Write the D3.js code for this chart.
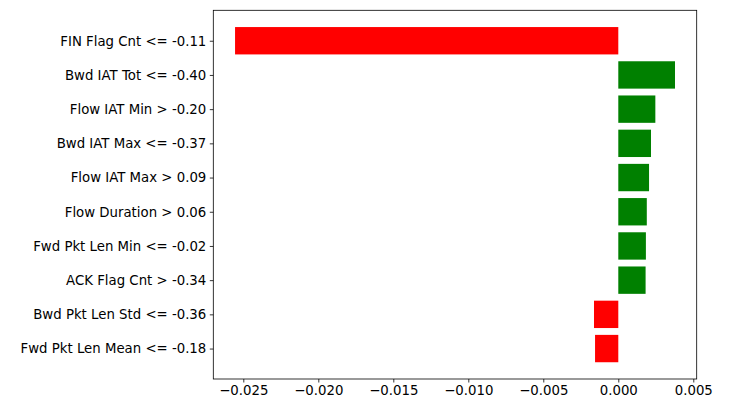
<!DOCTYPE html>
<html>
<head>
<meta charset="utf-8">
<script src="https://cdn.jsdelivr.net/npm/d3@7"></script>
<style>
  body { margin: 0; background: #fff; }
  text { font-family: "DejaVu Sans", sans-serif; }
</style>
</head>
<body>
<div id="chart"></div>
<script>
// bottom to top, as matplotlib barh draws them
const labels = [
  "Fwd Pkt Len Mean <= -0.18",
  "Bwd Pkt Len Std <= -0.36",
  "ACK Flag Cnt > -0.34",
  "Fwd Pkt Len Min <= -0.02",
  "Flow Duration > 0.06",
  "Flow IAT Max > 0.09",
  "Bwd IAT Max <= -0.37",
  "Flow IAT Min > -0.20",
  "Bwd IAT Tot <= -0.40",
  "FIN Flag Cnt <= -0.11",
];
const values = [-0.00155, -0.00162, 0.00182, 0.00184, 0.0019, 0.00205, 0.00218, 0.00247, 0.00378, -0.02555];
const xTicks = [-0.025, -0.02, -0.015, -0.01, -0.005, 0, 0.005];

const width = 736, height = 413;
const margin = { top: 10.3, right: 39.3, bottom: 34, left: 213.3 };
const w = width - margin.left - margin.right;
const h = height - margin.top - margin.bottom;

const svg = d3.select("#chart").append("svg")
  .attr("width", width).attr("height", height);
const g = svg.append("g")
  .attr("transform", "translate(" + margin.left + "," + margin.top + ")");

const x = d3.scaleLinear().domain([-0.02700, 0.005227]).range([0, w]);
const y = d3.scaleLinear().domain([-0.89, 9.89]).range([h, 0]);

g.selectAll("rect.bar").data(values).join("rect")
  .attr("class", "bar")
  .attr("x", d => x(Math.min(0, d)))
  .attr("width", d => Math.abs(x(d) - x(0)))
  .attr("y", (d, i) => y(i + 0.4))
  .attr("height", y(0) - y(0.8))
  .attr("fill", d => d > 0 ? "green" : "red");

const xAxis = g.append("g")
  .attr("transform", "translate(0," + h + ")")
  .call(d3.axisBottom(x).tickValues(xTicks)
    .tickFormat(d => d3.format(".3f")(d).replace("-", "\u2212"))
    .tickSize(3.5).tickPadding(3.5));
const yAxis = g.append("g")
  .call(d3.axisLeft(y).tickValues(d3.range(labels.length))
    .tickFormat(i => labels[i]).tickSize(3.5).tickPadding(3.5));
[xAxis, yAxis].forEach(a => {
  a.select(".domain").remove();
  a.selectAll("text").attr("font-size", 13.3).attr("fill", "#000")
    .style("font-family", "DejaVu Sans");
  a.selectAll("line").attr("stroke", "#000").attr("stroke-width", 0.8);
});

g.append("rect").attr("width", w).attr("height", h)
  .attr("fill", "none").attr("stroke", "#000").attr("stroke-width", 0.8);
</script>
</body>
</html>
